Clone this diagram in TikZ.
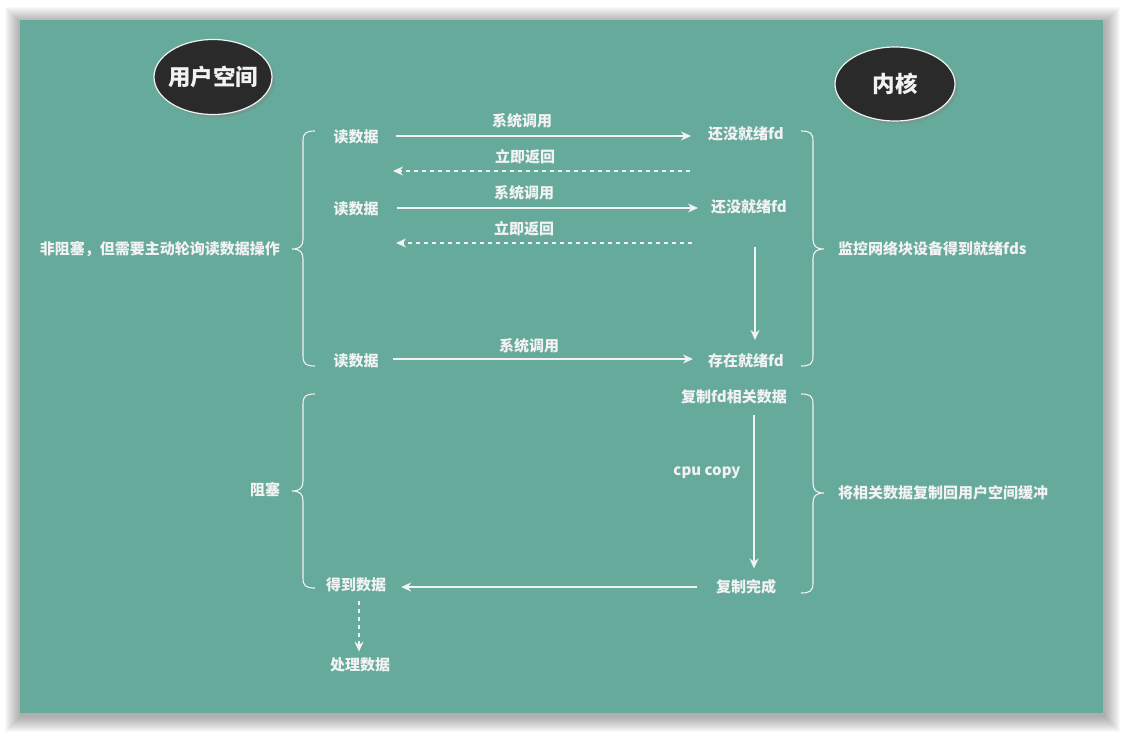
\documentclass[tikz,border=0pt]{standalone}
\usepackage{fontspec}
\setmainfont{Noto Sans CJK SC}
\usetikzlibrary{arrows.meta,shadows,shapes.geometric}
\definecolor{bg}{HTML}{66AA9C}
\definecolor{ink}{HTML}{F2F2F2}
\definecolor{dark}{HTML}{2A2A2A}
\begin{document}
\begin{tikzpicture}[x=1pt,y=-1pt,
  font=\bfseries\fontsize{15}{17}\selectfont,
  txt/.style={text=ink, inner sep=1pt},
  line/.style={draw=ink, line width=1.2pt},
  arr/.style={line, -{Stealth[length=10pt,width=9pt]}},
  darr/.style={arr, dash pattern=on 4pt off 4pt},
  brace/.style={draw=ink, line width=1.1pt},
  blob/.style={ellipse, fill=dark, draw=ink, line width=1.2pt, text=ink, inner sep=0pt,
    font=\bfseries\fontsize{22.5}{26}\selectfont,
    minimum width=118pt, minimum height=75pt,
    drop shadow={shadow xshift=3pt, shadow yshift=-3pt, opacity=0.35}}]
\useasboundingbox (0,0) rectangle (1123,733);
% frame shadow and background
\foreach \i in {1,...,16}
  \fill[black, opacity=0.022] (20-\i+1,20-\i+3) rectangle (1103+\i+1,713+\i+3);
\fill[bg] (20,20) rectangle (1103,713);

% headers
\node[blob] (us) at (213,77) {\makebox[60pt]{用户空间}};
\node[blob, minimum width=120pt, minimum height=74pt] (kn) at (895,84) {\makebox[40pt]{内核}};

% row 1
\node[txt] (r1) at (356,137) {读数据};
\node[txt] (k1) at (746,134) {还没就绪fd};
\node[txt] (l1) at (522,121) {系统调用};
\node[txt] (l2) at (525,157) {立即返回};
\draw[arr, shorten <=16pt, shorten >=16pt] (r1.east |- 0,136) -- (k1.west |- 0,136);
\coordinate (d1s) at (690,171);
\coordinate (d1e) at (393,171);
\draw[darr] (d1s) -- (d1e);

% row 2
\node[txt] (r2) at (356,209) {读数据};
\node[txt] (k2) at (749,207) {还没就绪fd};
\node[txt] (l3) at (524,193) {系统调用};
\node[txt] (l4) at (524,229) {立即返回};
\draw[arr, shorten <=17pt, shorten >=12pt] (r2.east |- 0,208) -- (k2.west |- 0,208);
\coordinate (d2s) at (692,243);
\coordinate (d2e) at (396,243);
\draw[darr] (d2s) -- (d2e);

% row 3
\node[txt] (r3) at (356,361) {读数据};
\node[txt] (k3) at (746,361) {存在就绪fd};
\node[txt] (l5) at (529,346) {系统调用};
\coordinate (v1s) at (755,247);
\coordinate (v1e) at (755,340);
\draw[arr] (v1s) -- (v1e);
\draw[arr, shorten <=13pt, shorten >=14pt] (r3.east |- 0,359) -- (k3.west |- 0,359);

% copy phase
\node[txt] (c1) at (734,397) {复制fd相关数据};
\node[txt] (c2) at (746,587) {复制完成};
\node[txt] (cc) at (707,473) {cpu copy};
\draw[arr, shorten <=10pt, shorten >=10pt] (c1.south -| 754,0) -- (c2.north -| 754,0);
\node[txt] (g) at (356,585) {得到数据};
\node[txt] (p) at (360,665) {处理数据};
\draw[arr, shorten <=18pt, shorten >=14pt] (c2.west |- 0,587) -- (g.east |- 0,587);
\draw[darr, shorten <=8pt, shorten >=5pt] (g.south -| 359,0) -- (p.north -| 359,0);

% braces
\draw[brace] (315,131) .. controls (306,131) and (303,133) .. (303,141) -- (303,239)
  .. controls (303,246) and (300,249) .. (292,249)
  .. controls (300,249) and (303,252) .. (303,259) -- (303,356)
  .. controls (303,364) and (306,366) .. (315,366);
\draw[brace] (801,131) .. controls (810,131) and (813,133) .. (813,141) -- (813,239)
  .. controls (813,246) and (816,249) .. (824,249)
  .. controls (816,249) and (813,252) .. (813,259) -- (813,356)
  .. controls (813,364) and (810,366) .. (801,366);
\draw[brace] (315,394) .. controls (306,394) and (303,396) .. (303,404) -- (303,481)
  .. controls (303,488) and (300,491) .. (292,491)
  .. controls (300,491) and (303,494) .. (303,501) -- (303,578)
  .. controls (303,586) and (306,588) .. (315,588);
\draw[brace] (801,394) .. controls (810,394) and (813,396) .. (813,404) -- (813,483)
  .. controls (813,490) and (816,493) .. (824,493)
  .. controls (816,493) and (813,496) .. (813,503) -- (813,583)
  .. controls (813,591) and (810,593) .. (801,593);

% brace labels
\node[txt, anchor=east] (nb) at (281,249) {非阻塞，但需要主动轮询读数据操作};
\node[txt, anchor=west] (mon) at (837,249) {监控网络块设备得到就绪fds};
\node[txt] (blk) at (265,490) {阻塞};
\node[txt, anchor=west] (cpy) at (837,493) {将相关数据复制回用户空间缓冲};
\end{tikzpicture}
\end{document}
